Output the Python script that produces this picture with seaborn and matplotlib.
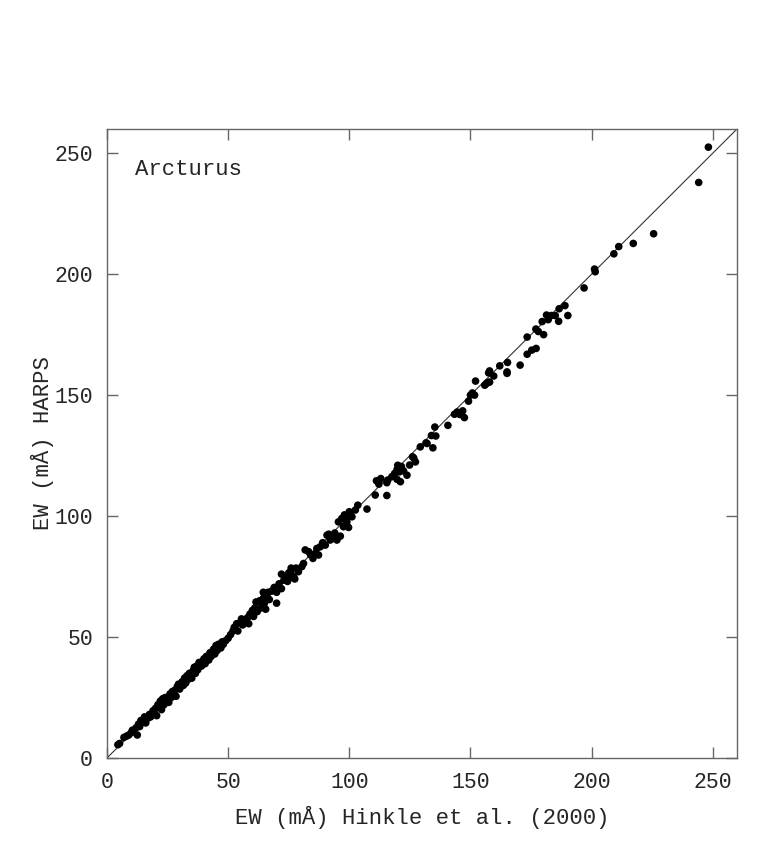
import numpy as np
import pandas as pd
import seaborn as sns
import matplotlib.pyplot as plt

# Equivalent widths (mA): Hinkle et al. (2000) vs HARPS
ew_hinkle = [
    4.5, 5.2, 7, 8, 9, 10, 10.5, 11, 12, 12.5, 13, 13.5, 14, 15, 15.5, 16, 17, 17.5,
    18, 19, 19.5, 20, 20.5, 21, 21.5, 22, 22.5, 23, 23.5, 24, 25, 25.5,
    26, 26.5, 27, 28, 28.5, 29, 29.5, 30, 31, 31.5, 32, 32.5, 33, 33.5, 34, 35,
    35.5, 36, 36.5, 37, 37.5, 38, 39, 39.5, 40, 40.5, 41, 42, 42.5, 43, 44, 44.5,
    45, 45.5, 46, 47, 47.5, 48, 49, 50,
    51, 52, 52.5, 53, 53.5, 54, 55, 55.5, 56, 57, 58, 58.5, 59, 60, 60.5, 61,
    61.5, 62, 63, 63.5, 64, 64.5, 64.5, 65, 65.5, 66, 66.5, 67, 68, 70, 69, 70,
    71, 72, 72, 73, 74, 74.5, 75, 75.5, 76, 76, 77, 77.5, 78, 79,
    80.4, 81.1, 81.8, 83.2, 86, 86.6, 87.3, 88, 90.1, 90.8, 92.1, 93.5, 94.9, 96.3,
    95.5, 96.9, 97.6, 99, 99, 99.7, 100.4, 101.1, 102.5, 107.3, 110.7,
    84, 85, 89, 91.5, 94, 98, 100, 103.5,
    111.2, 112.2, 113, 115.5, 115.9, 115.5, 117.6, 118.7, 119.7, 119.7, 120.7, 121.1,
    120, 121.5, 122.4, 123.8, 124.9, 126.1, 126.6, 127.3, 129.3, 131.7, 132.1, 134.5,
    133.9, 135.7, 135.3, 140.7, 143.4, 144.5, 145.6, 146.8, 147.5, 149.2, 150, 150.8,
    151.7, 152.1, 155.9, 156.6, 157.1, 157.9, 157.5, 157.9, 159.6, 162.1, 165.3, 165.1,
    165.1,
    170.5, 173.4, 173.4, 175.3, 177.1, 177, 178, 179.6, 180.2, 181.4, 182.1, 183.4,
    185, 186.6, 186.4, 189, 190.2, 196.9, 201.2, 201.5, 209.2, 211.2, 217.2, 225.6,
    244.2, 248.2,
]
ew_harps = [
    5.5, 6.0, 8.5, 9, 9.5, 10.5, 11.5, 11, 12.5, 9.5, 14, 13, 15.5, 15, 17, 14.5, 16.5, 18,
    17, 19.5, 18.5, 20.5, 17.5, 22, 21, 23.5, 20, 24.5, 22, 25, 24, 23,
    26.5, 25, 27.5, 28, 25.5, 29.5, 30.5, 28.5, 31.5, 30, 33, 31, 34, 32.5, 35, 33,
    36, 37.5, 35, 38, 36.5, 39.5, 38, 40, 41, 39, 42, 40.5, 43.5, 42, 45, 43,
    46.5, 44.5, 47, 45.5, 48, 47, 48.5, 49.5,
    51, 52.5, 54, 53, 55.5, 52.5, 56, 57.5, 55, 56.5, 58, 55.5, 59.5, 61, 58.5, 62,
    64.5, 60.5, 65, 62, 63.5, 66, 68.5, 64, 61.5, 67, 68.5, 65.5, 69, 64, 70.5, 68.5,
    72, 70, 76, 73.5, 75, 73, 76.5, 74.5, 77.5, 78.5, 75, 74, 78.5, 77,
    79.1, 80.4, 86, 85.3, 84.6, 86.6, 83.9, 87.3, 88, 92.1, 90.1, 90.8, 90.1, 91.7,
    97.6, 99, 95.6, 97.6, 99.7, 95.3, 101.1, 99.7, 102.5, 102.9, 108.7,
    84, 82.5, 89, 92.5, 93, 100.5, 101.8, 104.5,
    114.6, 113.2, 115.5, 113.8, 114.9, 108.5, 116.3, 117.6, 115.2, 119.2, 118.3, 114.2,
    121, 120.5, 118.7, 116.9, 121.1, 124.5, 124, 122.4, 128.6, 130.3, 130, 128.2,
    133.3, 133.1, 136.8, 137.5, 142.1, 143, 142, 143.5, 140.7, 147.5, 150, 150.9,
    150, 155.8, 154.1, 154.8, 155.2, 155.4, 159.2, 160, 157.9, 162.1, 163.5, 159.6,
    159,
    162.4, 174, 166.9, 168.6, 169.3, 177.3, 176.3, 180.4, 175, 183.1, 181.2, 182.9,
    182.9, 185.7, 180.5, 187, 182.9, 194.3, 202.1, 201, 208.4, 211.4, 212.7, 216.7,
    237.9, 252.5,
]

ticks = [0, 50, 100, 150, 200, 250]

df = pd.DataFrame({"hinkle": ew_hinkle, "harps": ew_harps})

sns.set_style("ticks")
plt.rcParams["font.family"] = ["Liberation Mono", "DejaVu Sans"]

fig = plt.figure(figsize=(7.77, 8.41), dpi=100)
ax = fig.add_axes([0.1377, 0.0987, 0.8108, 0.7479])

sns.scatterplot(data=df, x="hinkle", y="harps", color="black", s=30,
                edgecolor="none", ax=ax, zorder=3)
ax.axline((0, 0), slope=1, color="#333333", lw=0.8, zorder=2)

ax.set_xlim(0, 260)
ax.set_ylim(0, 260)
ax.set_xticks(ticks)
ax.set_yticks(ticks)
ax.tick_params(direction="in", length=8, width=1, color="#666666",
               top=True, right=True, labelsize=15.5, pad=10)
for sp in ax.spines.values():
    sp.set_color("#666666")
    sp.set_linewidth(1)

ax.set_xlabel("EW (mÅ) Hinkle et al. (2000)", fontsize=16, labelpad=9)
ax.set_ylabel("EW (mÅ) HARPS", fontsize=16, labelpad=0)
ax.text(0.044, 0.936, "Arcturus", transform=ax.transAxes, fontsize=16,
        va="center", ha="left")

fig.savefig("out.png", dpi=100)
